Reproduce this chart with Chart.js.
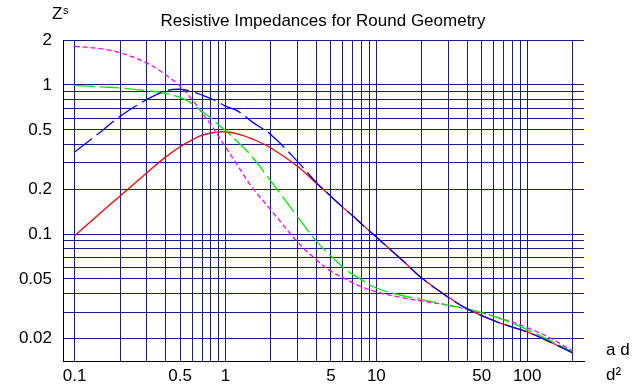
<!DOCTYPE html>
<html>
<head>
<meta charset="utf-8">
<script src="https://cdn.jsdelivr.net/npm/chart.js@4/dist/chart.umd.min.js"></script>
<style>
  html, body { margin: 0; padding: 0; background: #fff; }
  #wrap { width: 643px; height: 389px; }
</style>
</head>
<body>
<div id="wrap"><canvas id="chart" width="643" height="389"></canvas></div>
<script>
// values (x = ad/d2, y = Zs)
var xValues = [0.1, 0.15, 0.2, 0.3, 0.4, 0.5, 0.6, 0.7, 0.8, 0.9, 1, 1.2, 1.5, 2, 3, 4, 5, 6, 7, 8, 10, 15, 20, 30, 40, 50, 70, 100, 150, 200];
var redValues = [0.0975, 0.14, 0.18, 0.257, 0.328, 0.385, 0.428, 0.46, 0.476, 0.484, 0.484, 0.47, 0.435, 0.378, 0.285, 0.219, 0.179, 0.151, 0.132, 0.1166, 0.0955, 0.0662, 0.0507, 0.0377, 0.0315, 0.0284, 0.0248, 0.0221, 0.0184, 0.016];
var blueValues = [0.355, 0.488, 0.616, 0.797, 0.91, 0.935, 0.9, 0.855, 0.81, 0.765, 0.72, 0.67, 0.565, 0.464, 0.307, 0.222, 0.179, 0.151, 0.132, 0.1166, 0.0955, 0.0662, 0.0507, 0.0377, 0.0315, 0.0284, 0.0248, 0.0221, 0.0184, 0.016];
var greenValues = [0.994, 0.97, 0.955, 0.916, 0.878, 0.824, 0.749, 0.664, 0.599, 0.541, 0.494, 0.416, 0.33, 0.226, 0.131, 0.0898, 0.0713, 0.06, 0.0535, 0.0493, 0.0435, 0.0386, 0.0364, 0.0334, 0.0315, 0.0297, 0.0266, 0.0229, 0.0188, 0.0162];
var magentaValues = [1.815, 1.745, 1.64, 1.405, 1.17, 0.98, 0.797, 0.649, 0.541, 0.452, 0.383, 0.289, 0.206, 0.145, 0.0887, 0.0672, 0.0563, 0.0511, 0.0471, 0.0443, 0.041, 0.0374, 0.0356, 0.0333, 0.0313, 0.0297, 0.0268, 0.0236, 0.0195, 0.0164];

// grid lines and the labelled ticks
var xGrid = [0.1, 0.2, 0.3, 0.4, 0.5, 0.6, 0.7, 0.8, 0.9, 1, 2, 3, 4, 5, 6, 7, 8, 9, 10, 20, 30, 40, 50, 60, 70, 80, 90, 100, 200];
var xLabels = [0.1, 0.5, 1, 5, 10, 50, 100];
var yGrid = [0.02, 0.03, 0.04, 0.05, 0.06, 0.07, 0.08, 0.09, 0.1, 0.2, 0.3, 0.4, 0.5, 0.6, 0.7, 0.8, 0.9, 1, 2];
var yLabels = [0.02, 0.05, 0.1, 0.2, 0.5, 1, 2];

var titleText = "Resistive Impedances for Round Geometry";

function points(ys) {
  return xValues.map(function (x, i) { return { x: x, y: ys[i] }; });
}

function hasLabel(list, v) {
  return list.some(function (l) { return Math.abs(l - v) < l * 1e-6; });
}

var textPlugin = {
  id: "texts",
  afterDraw: function (chart) {
    var ctx = chart.ctx;
    ctx.save();
    ctx.fillStyle = "#000";
    ctx.textBaseline = "alphabetic";
    ctx.font = "17px 'Liberation Sans', Arial, sans-serif";
    ctx.textAlign = "center";
    ctx.fillText(titleText, 323, 26);
    ctx.textAlign = "left";
    ctx.fillText("Z", 52, 19);
    ctx.fillText("a d", 606, 355);
    ctx.fillText("d\u00B2", 606, 380);
    ctx.font = "11px 'Liberation Sans', Arial, sans-serif";
    ctx.fillText("s", 63, 14);
    ctx.restore();
  }
};

var gridColor = "#1a1a8c";
var tickFont = { family: "'Liberation Sans', Arial, sans-serif", size: 17 };

var ctx = document.getElementById("chart").getContext("2d");
var chart = new Chart(ctx, {
  type: "line",
  data: {
    datasets: [
      { data: points(blueValues), borderColor: "#0000ff", borderDash: [22, 6] },
      { data: points(greenValues), borderColor: "#00ee00", borderDash: [20, 5] },
      { data: points(magentaValues), borderColor: "#ff00ff", borderDash: [5, 3] },
      { data: points(redValues), borderColor: "#ff0000" }
    ]
  },
  options: {
    responsive: false,
    animation: false,
    layout: { padding: { top: 40, right: 59, left: 0, bottom: 0 } },
    elements: {
      point: { radius: 0 },
      line: { borderWidth: 1.3, fill: false, tension: 0.4 }
    },
    plugins: {
      legend: { display: false },
      tooltip: { enabled: false },
      title: { display: false }
    },
    scales: {
      x: {
        type: "logarithmic",
        min: 0.0837,
        max: 238,
        afterBuildTicks: function (scale) {
          scale.ticks = xGrid.map(function (v) { return { value: v }; });
        },
        afterFit: function (scale) { scale.height = 28; },
        grid: { color: gridColor, lineWidth: 1, drawTicks: false },
        border: { display: true, color: "#000", width: 1 },
        ticks: {
          autoSkip: false,
          maxRotation: 0,
          minRotation: 0,
          padding: 5,
          color: "#000",
          font: tickFont,
          callback: function (v) { return hasLabel(xLabels, v) ? String(v) : ""; }
        }
      },
      y: {
        type: "logarithmic",
        min: 0.0141,
        max: 2,
        afterBuildTicks: function (scale) {
          scale.ticks = yGrid.map(function (v) { return { value: v }; });
        },
        afterFit: function (scale) { scale.width = 63; },
        grid: { color: gridColor, lineWidth: 1, drawTicks: false },
        border: { display: true, color: "#000", width: 1 },
        ticks: {
          autoSkip: false,
          padding: 11,
          color: "#000",
          font: tickFont,
          callback: function (v) { return hasLabel(yLabels, v) ? String(v) : ""; }
        }
      }
    }
  },
  plugins: [textPlugin]
});
</script>
</body>
</html>
